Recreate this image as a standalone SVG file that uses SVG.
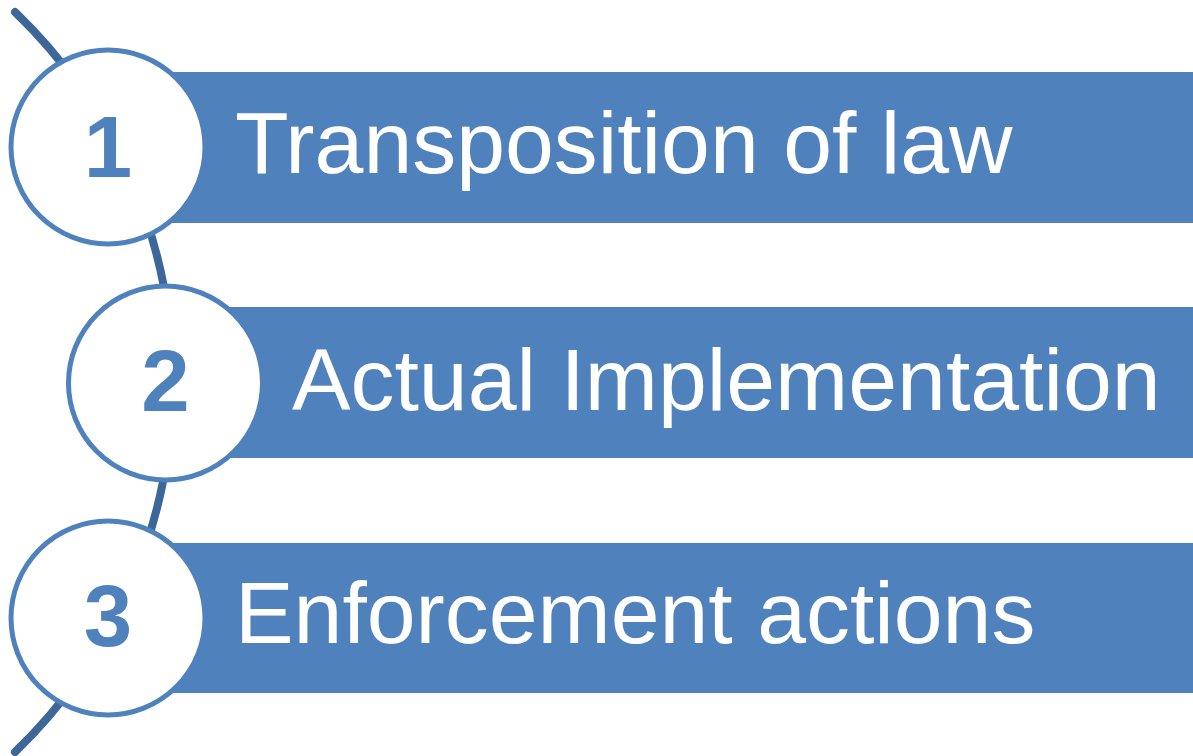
<svg xmlns="http://www.w3.org/2000/svg" width="1193" height="756" viewBox="0 0 1193 756">
<style>
.bar{fill:#4F81BD}
.circ{fill:#FFFFFF;stroke:#4F81BD;stroke-width:5}
.num{font-family:"Liberation Sans",Arial,sans-serif;font-weight:bold;font-size:87px;fill:#4F81BD;text-anchor:middle}
.lbl{font-family:"Liberation Sans",Arial,sans-serif;font-size:87.8px;fill:#FFFFFF}
.arc{fill:none;stroke:#3D6799;stroke-width:8;stroke-linecap:round}
</style>
<rect width="1193" height="756" fill="#FFFFFF"/>
<g id="connectors">
<path class="arc" d="M15,12 A513,513 0 0 1 15,752"/>
</g>
<g id="step1">
<rect class="bar" x="108" y="72" width="1085" height="151"/>
<circle class="circ" cx="108" cy="147" r="97"/>
<text class="num" x="108" y="177">1</text>
<text class="lbl" x="235" y="173">Transposition of law</text>
</g>
<g id="step2">
<rect class="bar" x="165" y="307" width="1028" height="151"/>
<circle class="circ" cx="165.5" cy="383" r="97"/>
<text class="num" x="165.5" y="411">2</text>
<text class="lbl" x="292" y="410">Actual Implementation</text>
</g>
<g id="step3">
<rect class="bar" x="108" y="543" width="1085" height="150"/>
<circle class="circ" cx="108" cy="618" r="97"/>
<text class="num" x="108" y="646">3</text>
<text class="lbl" x="235" y="643">Enforcement actions</text>
</g>
</svg>
